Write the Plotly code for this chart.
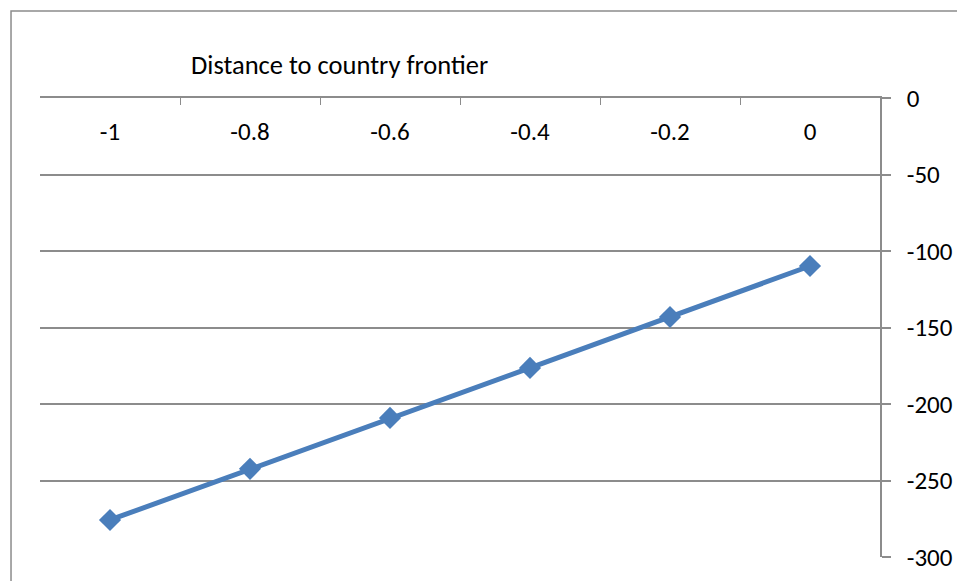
import plotly.graph_objects as go

# Distance to the country frontier vs. the modelled effect
distance = ["-1", "-0.8", "-0.6", "-0.4", "-0.2", "0"]
effect = [-275.8, -242.4, -209.1, -176.4, -143.1, -109.8]
y_ticks = [0, -50, -100, -150, -200, -250, -300]

FONT = "Calibri, Carlito, Lato, sans-serif"
GRID = "#8c8c8c"
BLUE = "#4a7ebb"

n = len(distance)

fig = go.Figure()
fig.add_trace(
    go.Scatter(
        x=distance,
        y=effect,
        mode="lines+markers",
        line=dict(color=BLUE, width=5),
        marker=dict(symbol="diamond", size=17, color=BLUE),
        showlegend=False,
        cliponaxis=False,
    )
)
# transparent copy on the label axis so it gets laid out and drawn
fig.add_trace(
    go.Scatter(
        x=list(range(n)),
        y=effect,
        xaxis="x2",
        mode="lines",
        opacity=0,
        hoverinfo="skip",
        showlegend=False,
    )
)

fig.update_layout(
    width=957,
    height=581,
    margin=dict(l=40, r=77, t=98, b=24),
    paper_bgcolor="white",
    plot_bgcolor="white",
    font=dict(family=FONT, size=25, color="#000000"),
    # category axis along the top: line and boundary ticks only
    xaxis=dict(
        type="category",
        range=[-0.5, n - 0.5],
        side="top",
        tickson="boundaries",
        ticks="inside",
        ticklen=7,
        tickwidth=1.3,
        tickcolor=GRID,
        showline=True,
        linecolor=GRID,
        linewidth=1.5,
        showgrid=False,
        zeroline=False,
        showticklabels=False,
        automargin=False,
        fixedrange=True,
    ),
    # category labels hang just under the top axis line
    xaxis2=dict(
        overlaying="x",
        anchor="free",
        side="top",
        position=0.8985,
        range=[-0.5, n - 0.5],
        tickvals=list(range(n)),
        ticktext=distance,
        ticks="",
        showline=False,
        showgrid=False,
        zeroline=False,
        tickfont=dict(family=FONT, size=25),
        automargin=False,
        fixedrange=True,
    ),
    yaxis=dict(
        side="right",
        range=[-300, 0],
        tickvals=y_ticks,
        ticktext=[str(v) for v in y_ticks],
        ticks="outside",
        ticklen=9,
        tickwidth=1.5,
        tickcolor=GRID,
        showline=True,
        linecolor=GRID,
        linewidth=1.5,
        showgrid=True,
        gridcolor=GRID,
        gridwidth=1.5,
        zeroline=False,
        ticklabelstandoff=11,
        tickfont=dict(family=FONT, size=25),
        automargin=False,
        fixedrange=True,
    ),
    annotations=[
        dict(
            text="Distance to country frontier",
            xref="paper",
            yref="paper",
            x=0.357,
            y=1.072,
            xanchor="center",
            yanchor="middle",
            showarrow=False,
            font=dict(family=FONT, size=26.5),
        )
    ],
    shapes=[
        # chart-area frame (runs off the right and bottom edges)
        dict(
            type="rect",
            xref="paper",
            yref="paper",
            x0=-0.0345,
            x1=1.2,
            y0=-0.2,
            y1=1.1895,
            line=dict(color=GRID, width=1.5),
            fillcolor="rgba(0,0,0,0)",
            layer="below",
        )
    ],
)

fig.write_html("out.html")
